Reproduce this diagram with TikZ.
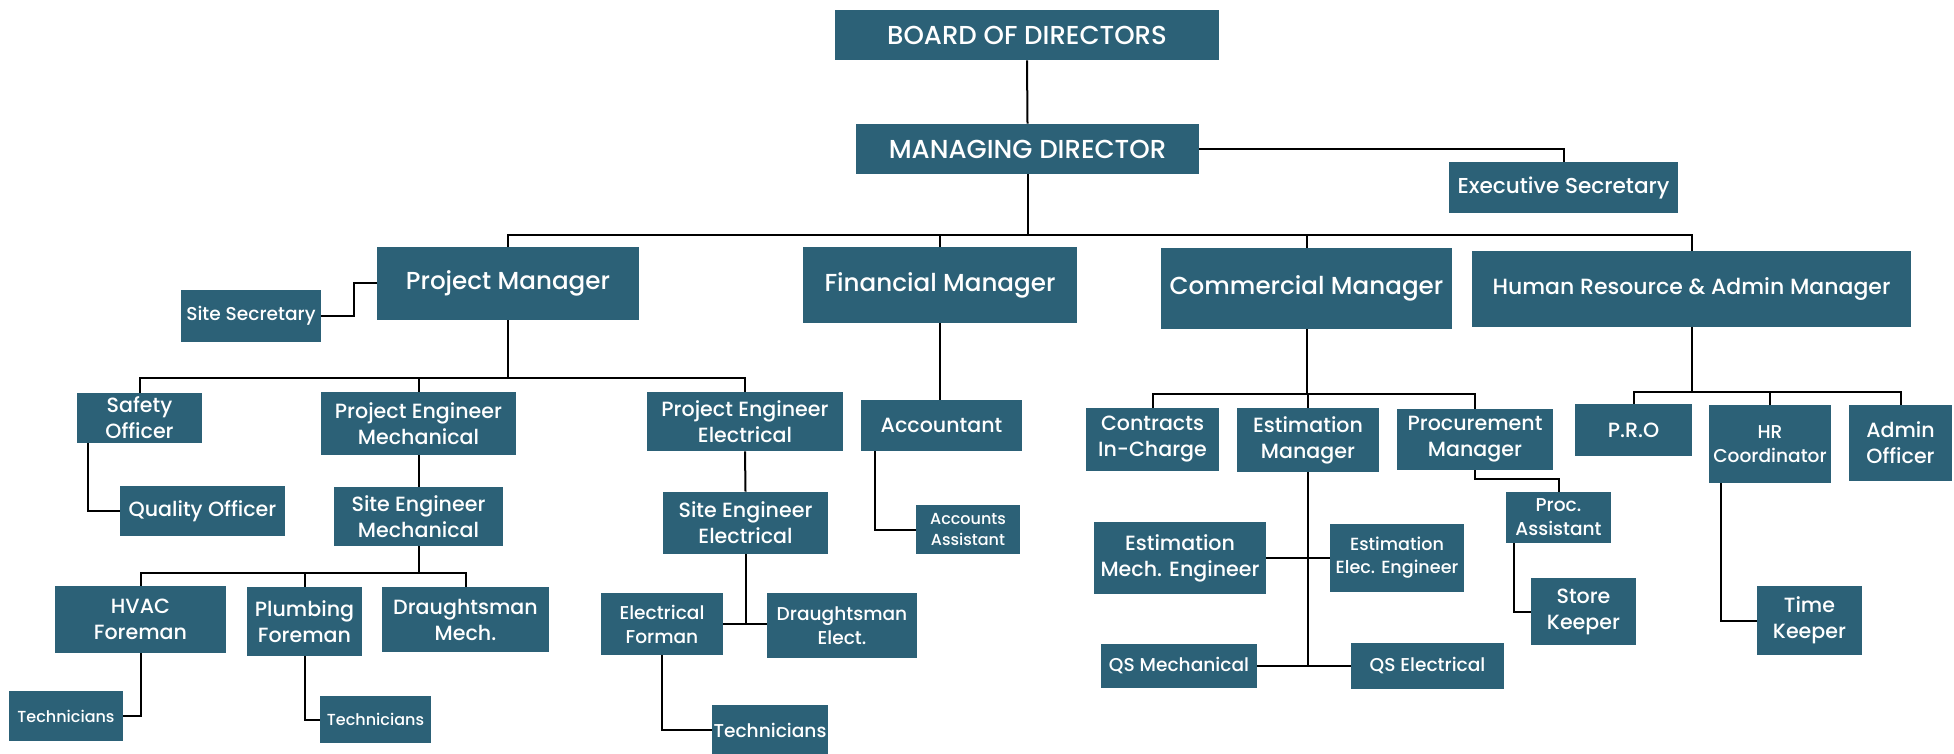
\documentclass[tikz,border=0pt]{standalone}
\usepackage{fontspec}
\setmainfont{Poppins Medium}
\definecolor{boxc}{RGB}{44,97,119}
\tikzset{
  x=0.5pt, y=-0.5pt,
  box/.style={rectangle, fill=boxc, text=white, inner sep=0pt, align=center},
  fa/.style={font=\fontsize{13}{15}\selectfont},
  fb/.style={font=\fontsize{12.3}{15}\selectfont},
  fc/.style={font=\fontsize{10.3}{13}\selectfont},
  fd/.style={font=\fontsize{9.3}{12}\selectfont},
  fe/.style={font=\fontsize{8}{10.5}\selectfont},
  conn/.style={draw=black, line width=1pt}
}
\newcommand\bx[7][]{%
  \node[box,#1,minimum width={(#5-#3)*0.5pt},minimum height={(#6-#4)*0.5pt}] (#2) at ({(#3+#5)/2},{(#4+#6)/2}) {#7};}
\begin{document}
\begin{tikzpicture}
\useasboundingbox[fill=white] (0,0) rectangle (1954,754);
% top
\bx[fa]{board}{835}{10}{1219}{60}{BOARD OF DIRECTORS}
\bx[fa]{md}{856}{124}{1199}{174}{MANAGING DIRECTOR}
\bx[font=\fontsize{10.8}{13}\selectfont]{es}{1449}{162}{1678}{213}{Executive Secretary}
% managers
\bx[fb]{pm}{377}{247}{639}{320}{Project Manager}
\bx[fb]{fm}{803}{247}{1077}{323}{Financial Manager}
\bx[fb]{cm}{1161}{248}{1452}{329}{Commercial Manager}
\bx[font=\fontsize{11}{13}\selectfont]{hr}{1472}{251}{1911}{327}{Human Resource \& Admin Manager}
\bx[fd]{ss}{181}{290}{321}{342}{Site Secretary}
% project branch
\bx[fc]{so}{77}{393}{202}{443}{Safety\\Officer}
\bx[fc]{pem}{321}{392}{516}{455}{Project Engineer\\Mechanical}
\bx[fc]{pee}{647}{392}{843}{451}{Project Engineer\\Electrical}
\bx[fc]{qo}{120}{486}{285}{536}{Quality Officer}
\bx[fc]{sem}{334}{487}{503}{546}{Site Engineer\\Mechanical}
\bx[fc]{see}{663}{492}{828}{554}{Site Engineer\\Electrical}
\bx[fc]{hvac}{55}{586}{226}{653}{HVAC\\Foreman}
\bx[fc]{plf}{247}{587}{362}{656}{Plumbing\\Foreman}
\bx[fc]{dm}{382}{587}{549}{652}{Draughtsman\\Mech.}
\bx[fe]{ta}{9}{691}{123}{741}{Technicians}
\bx[fe]{tb}{320}{696}{431}{743}{Technicians}
\bx[fd]{ef}{601}{593}{723}{655}{Electrical\\Forman}
\bx[fd]{de}{767}{593}{917}{658}{Draughtsman\\Elect.}
\bx[fd]{tc}{712}{705}{828}{755}{Technicians}
% finance
\bx[fc]{acc}{861}{400}{1022}{451}{Accountant}
\bx[fe]{aa}{916}{505}{1020}{554}{Accounts\\Assistant}
% commercial
\bx[fc]{cic}{1086}{408}{1219}{471}{Contracts\\In-Charge}
\bx[fc]{em}{1237}{408}{1379}{472}{Estimation\\Manager}
\bx[fc]{pcm}{1397}{409}{1553}{470}{Procurement\\Manager}
\bx[fc]{eme}{1094}{522}{1266}{594}{Estimation\\Mech. Engineer}
\bx[font=\fontsize{8.8}{11.5}\selectfont]{eee}{1330}{524}{1464}{592}{Estimation\\Elec. Engineer}
\bx[fd]{qsm}{1101}{644}{1257}{688}{QS Mechanical}
\bx[fd]{qse}{1351}{643}{1504}{689}{QS Electrical}
\bx[fd]{pa}{1506}{492}{1611}{543}{Proc.\\Assistant}
\bx[fc]{sk}{1531}{578}{1636}{645}{Store\\Keeper}
% HR
\bx[fc]{pro}{1575}{404}{1692}{456}{P.R.O}
\bx[fd]{hrc}{1709}{405}{1831}{483}{HR\\Coordinator}
\bx[fc]{ao}{1849}{405}{1952}{481}{Admin\\Officer}
\bx[fc]{tk}{1757}{586}{1862}{655}{Time\\Keeper}
% helper coordinates
\coordinate (busA) at (0,235);
\coordinate (busB) at (0,378);
\coordinate (busC) at (0,573);
\coordinate (busD) at (0,394);
\coordinate (busE) at (0,392);
\coordinate (pcy) at (0,479);
\coordinate (ssx) at (354,0);
\coordinate (sox) at (88,0);
\coordinate (accx) at (875,0);
\coordinate (pax) at (1514,0);
\coordinate (hrcx) at (1721,0);
% connectors
\draw[conn] (board.south) -- (md.north);
\draw[conn] (md.east) -| (es.north);
\draw[conn] (md.south) -- (md.south |- busA);
\draw[conn] (pm.north) |- (hr.north |- busA) -- (hr.north);
\draw[conn] (fm.north) -- (fm.north |- busA);
\draw[conn] (cm.north) -- (cm.north |- busA);
\draw[conn] (ss.east) -- (ss.east -| ssx) |- (pm.west);
% project
\draw[conn] (pm.south) -- (pm.south |- busB);
\draw[conn] (so.north) |- (pee.north |- busB) -- (pee.north);
\draw[conn] (pem.north) -- (pem.north |- busB);
\draw[conn] (so.south -| sox) |- (qo.west);
\draw[conn] (pem.south) -- (sem.north);
\draw[conn] (sem.south) -- (sem.south |- busC);
\draw[conn] (hvac.north) |- (dm.north |- busC) -- (dm.north);
\draw[conn] (plf.north) -- (plf.north |- busC);
\draw[conn] (hvac.south) |- (ta.east);
\draw[conn] (plf.south) |- (tb.west);
\draw[conn] (pee.south) -- (see.north);
\draw[conn] (ef.east) -- (de.west |- ef.east);
\draw[conn] (see.south) -- (see.south |- ef.east);
\draw[conn] (ef.south) |- (tc.west);
% finance
\draw[conn] (fm.south) -- (fm.south |- acc.north);
\draw[conn] (acc.south -| accx) |- (aa.west);
% commercial
\draw[conn] (cm.south) -- (cm.south |- busD);
\draw[conn] (cic.north) |- (pcm.north |- busD) -- (pcm.north);
\draw[conn] (em.north) -- (em.north |- busD);
\draw[conn] (em.south) -- (em.south |- qsm.east);
\draw[conn] (eme.east) -- (eee.west |- eme.east);
\draw[conn] (qsm.east) -- (qse.west |- qsm.east);
\draw[conn] (pcm.south) -- (pcm.south |- pcy) -| (pa.north);
\draw[conn] (pa.south -| pax) |- (sk.west);
% HR
\draw[conn] (hr.south) -- (hr.south |- busE);
\draw[conn] (pro.north) |- (ao.north |- busE) -- (ao.north);
\draw[conn] (hrc.north) -- (hrc.north |- busE);
\draw[conn] (hrc.south -| hrcx) |- (tk.west);
\end{tikzpicture}
\end{document}
